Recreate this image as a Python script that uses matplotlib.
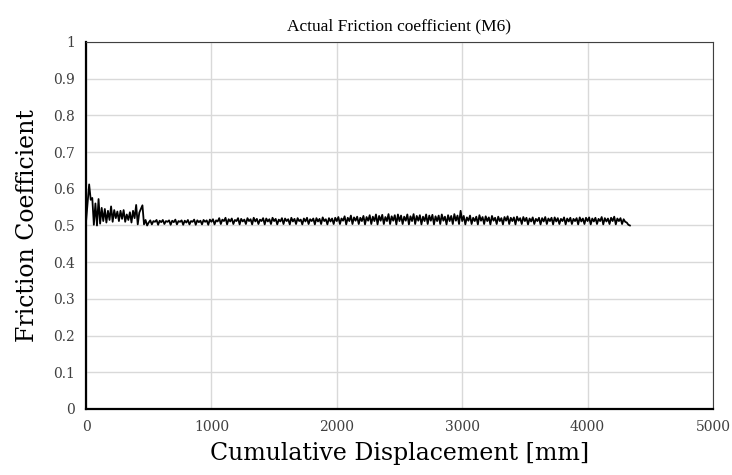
import numpy as np
import matplotlib
matplotlib.use("Agg")
import matplotlib.pyplot as plt

# friction coefficient, one sample every 12.5 mm
# (each row covers 250 mm of displacement)
step = 12.5
mu_0_500 = [
    0.510, 0.560, 0.612, 0.570, 0.575, 0.502, 0.560, 0.500, 0.572, 0.505, 0.548, 0.512, 0.545, 0.508, 0.540, 0.515, 0.552, 0.510, 0.542, 0.520,
    0.538, 0.512, 0.540, 0.518, 0.542, 0.510, 0.530, 0.515, 0.536, 0.508, 0.540, 0.520, 0.556, 0.503, 0.535, 0.545, 0.555, 0.503, 0.515, 0.500,
]
mu_500_1000 = [
    0.508, 0.514, 0.503, 0.512, 0.510, 0.515, 0.502, 0.513, 0.509, 0.515, 0.504, 0.512, 0.510, 0.514, 0.502, 0.513, 0.509, 0.516, 0.503, 0.512,
    0.510, 0.514, 0.502, 0.513, 0.508, 0.515, 0.503, 0.512, 0.510, 0.516, 0.502, 0.514, 0.509, 0.513, 0.503, 0.515, 0.510, 0.514, 0.502, 0.516,
]
mu_1000_2000 = [
    0.510, 0.517, 0.503, 0.514, 0.511, 0.520, 0.504, 0.516, 0.512, 0.521, 0.503, 0.517, 0.511, 0.519, 0.504, 0.515, 0.512, 0.520, 0.503, 0.518,
    0.511, 0.516, 0.504, 0.520, 0.512, 0.517, 0.503, 0.521, 0.511, 0.518, 0.504, 0.516, 0.512, 0.520, 0.503, 0.519, 0.511, 0.517, 0.504, 0.521,
    0.512, 0.518, 0.503, 0.516, 0.511, 0.520, 0.504, 0.519, 0.512, 0.517, 0.503, 0.521, 0.511, 0.518, 0.504, 0.520, 0.512, 0.516, 0.503, 0.519,
    0.511, 0.521, 0.504, 0.517, 0.512, 0.519, 0.503, 0.520, 0.511, 0.518, 0.504, 0.522, 0.512, 0.517, 0.503, 0.520, 0.511, 0.519, 0.504, 0.521,
]
mu_2000_3000 = [
    0.512, 0.523, 0.504, 0.519, 0.513, 0.525, 0.503, 0.521, 0.512, 0.527, 0.504, 0.522, 0.513, 0.524, 0.504, 0.521, 0.512, 0.526, 0.503, 0.523,
    0.513, 0.528, 0.504, 0.524, 0.512, 0.530, 0.503, 0.526, 0.513, 0.529, 0.504, 0.523, 0.512, 0.531, 0.504, 0.525, 0.513, 0.528, 0.503, 0.530,
    0.512, 0.527, 0.504, 0.524, 0.513, 0.530, 0.503, 0.525, 0.512, 0.531, 0.504, 0.526, 0.513, 0.528, 0.503, 0.524, 0.512, 0.530, 0.504, 0.527,
    0.513, 0.529, 0.503, 0.525, 0.512, 0.527, 0.504, 0.530, 0.513, 0.524, 0.503, 0.528, 0.512, 0.526, 0.504, 0.531, 0.513, 0.527, 0.504, 0.540,
]
mu_3000_end = [
    0.512, 0.526, 0.503, 0.522, 0.513, 0.527, 0.504, 0.521, 0.512, 0.524, 0.503, 0.528, 0.513, 0.523, 0.504, 0.525, 0.512, 0.522, 0.503, 0.526,
    0.513, 0.521, 0.504, 0.524, 0.512, 0.520, 0.503, 0.523, 0.513, 0.525, 0.504, 0.521, 0.512, 0.522, 0.503, 0.524, 0.513, 0.520, 0.504, 0.523,
    0.512, 0.521, 0.503, 0.519, 0.511, 0.522, 0.504, 0.518, 0.512, 0.521, 0.503, 0.520, 0.511, 0.523, 0.504, 0.519, 0.512, 0.521, 0.503, 0.522,
    0.511, 0.520, 0.504, 0.518, 0.512, 0.522, 0.503, 0.519, 0.511, 0.521, 0.504, 0.518, 0.512, 0.520, 0.503, 0.522, 0.511, 0.519, 0.504, 0.521,
    0.512, 0.522, 0.503, 0.519, 0.511, 0.521, 0.504, 0.518, 0.512, 0.523, 0.503, 0.520, 0.511, 0.519, 0.504, 0.521, 0.512, 0.524, 0.503, 0.519,
    0.512, 0.520, 0.504, 0.517, 0.510, 0.508, 0.502, 0.500,
]

mu = mu_0_500 + mu_500_1000 + mu_1000_2000 + mu_2000_3000 + mu_3000_end
disp = np.arange(len(mu)) * step

x_ticks = [0, 1000, 2000, 3000, 4000, 5000]
y_ticks = [0, 0.1, 0.2, 0.3, 0.4, 0.5, 0.6, 0.7, 0.8, 0.9, 1]
y_labels = ["0", "0.1", "0.2", "0.3", "0.4", "0.5", "0.6", "0.7", "0.8", "0.9", "1"]

plt.rcParams['font.family'] = ['DejaVu Serif', 'Liberation Serif']

fig = plt.figure(figsize=(7.32, 4.75), dpi=100)
ax = fig.add_axes([0.1175, 0.139, 0.8565, 0.7726])

ax.plot(disp, mu, color='black', linewidth=1.3)

ax.set_xlim(0, 5000)
ax.set_ylim(0, 1)
ax.set_xticks(x_ticks)
ax.set_yticks(y_ticks)
ax.set_yticklabels(y_labels)
ax.tick_params(length=0, labelsize=10, pad=8, colors='#404040')
ax.grid(True, color='#d9d9d9', linewidth=1)
ax.set_axisbelow(True)

ax.spines['left'].set_linewidth(1.6)
ax.spines['bottom'].set_linewidth(1.6)
ax.spines['top'].set_linewidth(0.8)
ax.spines['right'].set_linewidth(0.8)
ax.spines['top'].set_color('#404040')
ax.spines['right'].set_color('#404040')

ax.set_title("Actual Friction coefficient (M6)", fontsize=12.5, family='Liberation Serif', pad=8)
ax.set_xlabel("Cumulative Displacement [mm]", fontsize=17, labelpad=6)
ax.set_ylabel("Friction Coefficient", fontsize=17, labelpad=10)

fig.savefig("out.png", dpi=100)
